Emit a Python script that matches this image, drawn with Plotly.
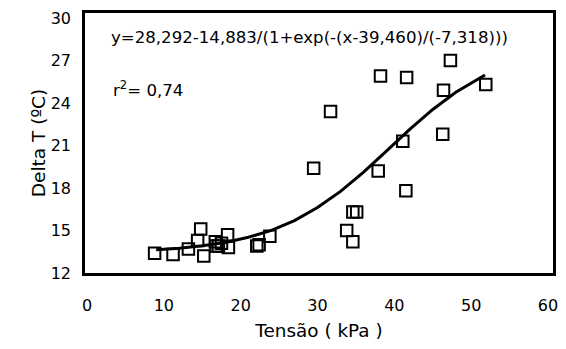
import plotly.graph_objects as go

# Observed data (Tensão kPa, Delta T ºC)
tensao = [8.8, 11.2, 13.2, 14.4, 14.8, 15.2, 16.7, 16.8, 17.1, 17.5, 18.3, 18.4,
          22.1, 22.4, 23.8, 29.5, 31.7, 33.8, 34.6, 34.6, 35.1, 37.9, 38.2,
          41.1, 41.5, 41.6, 46.3, 46.4, 47.3, 51.9]
delta_t = [13.4, 13.3, 13.7, 14.3, 15.1, 13.2, 14.2, 13.9, 13.9, 14.1, 14.7, 13.8,
           13.9, 14.0, 14.6, 19.4, 23.4, 15.0, 14.2, 16.3, 16.3, 19.2, 25.9,
           21.3, 17.8, 25.8, 21.8, 24.9, 27.0, 25.3]

# Fitted curve
curve_x = [9, 12, 15, 18, 21, 24, 27, 30, 33, 36, 39, 42, 45, 48, 51.8]
curve_y = [13.64, 13.75, 13.92, 14.16, 14.52, 15.01, 15.70, 16.62, 17.76,
           19.12, 20.62, 22.13, 23.54, 24.76, 25.97]

x_ticks = [0, 10, 20, 30, 40, 50, 60]
y_ticks = [12, 15, 18, 21, 24, 27, 30]

equation = "y=28,292-14,883/(1+exp(-(x-39,460)/(-7,318)))"
r2_text = "r<sup>2</sup>= 0,74"

FONT = "DejaVu Sans, Liberation Sans, Arial, sans-serif"

fig = go.Figure()
fig.add_trace(go.Scatter(
    x=curve_x, y=curve_y, mode="lines",
    line=dict(color="black", width=3), hoverinfo="skip", showlegend=False))
fig.add_trace(go.Scatter(
    x=tensao, y=delta_t, mode="markers",
    marker=dict(symbol="square-open", size=11.5, color="black",
                line=dict(color="black", width=2)),
    showlegend=False))

fig.add_annotation(text=equation, xref="paper", yref="paper",
                   x=0.052, y=0.905, xanchor="left", yanchor="middle",
                   showarrow=False, font=dict(family=FONT, size=16.6, color="black"))
fig.add_annotation(text=r2_text, xref="paper", yref="paper",
                   x=0.056, y=0.708, xanchor="left", yanchor="middle",
                   showarrow=False, font=dict(family=FONT, size=16.6, color="black"))

# page body has an 8px margin, so the figure is sized 8px smaller
fig.update_layout(
    width=558, height=341,
    margin=dict(l=77, r=13, t=5, b=76),
    paper_bgcolor="white", plot_bgcolor="white",
    font=dict(family=FONT, color="black", size=16),
    xaxis=dict(range=[-0.26, 60.65], tickvals=x_ticks, ticktext=[str(v) for v in x_ticks],
               showgrid=False, zeroline=False, showline=True, mirror=True,
               linecolor="black", linewidth=2.5, automargin=False,
               ticks="outside", ticklen=16, tickcolor="rgba(0,0,0,0)",
               tickfont=dict(size=16),
               title=dict(text="Tensão ( kPa )", font=dict(size=18.4), standoff=11)),
    yaxis=dict(range=[12, 30.35], tickvals=y_ticks, ticktext=[str(v) for v in y_ticks],
               showgrid=False, zeroline=False, showline=True, mirror=True,
               linecolor="black", linewidth=2.5, automargin=False,
               ticks="outside", ticklen=8, tickcolor="rgba(0,0,0,0)",
               tickfont=dict(size=16),
               title=dict(text="Delta T (ºC)", font=dict(size=18.5), standoff=1)),
)

fig.write_html("out.html")
